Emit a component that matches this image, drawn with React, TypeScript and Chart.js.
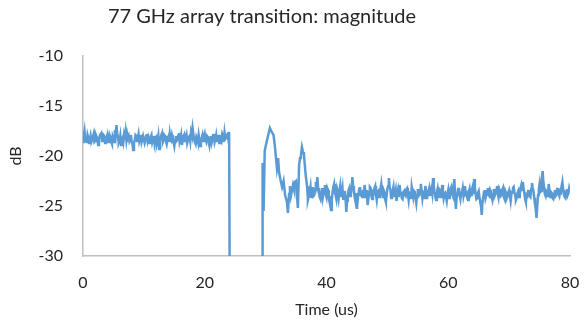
import React, { useEffect, useRef } from "react";
import { Chart, registerables } from "chart.js";

Chart.register(...registerables);

const TITLE = "77 GHz array transition: magnitude";
const X_TITLE = "Time (us)";
const Y_TITLE = "dB";

// Segment before the transition: samples every 0.125 us starting at 0 us
const PRE_START = 0;
const PRE_STEP = 0.125;
const preValues = [
  -18.6, -18.0, -17.5, -18.4, -18.3, -18.7, -17.9, -18.2, -18.7, -18.4, -18.0, -18.6, -18.4, -18.1, -17.8, -18.6, -18.5, -17.9, -18.1, -18.5,
  -18.9, -18.3, -18.0, -17.8, -17.7, -18.5, -18.3, -17.9, -18.0, -18.7, -18.6, -18.2, -17.9, -18.6, -18.4, -17.9, -18.1, -18.6, -18.8, -18.0,
  -18.2, -18.6, -17.4, -17.9, -16.9, -17.8, -18.1, -18.7, -18.5, -18.0, -18.9, -18.4, -18.2, -18.6, -17.9, -18.3, -17.6, -18.4, -17.8, -18.2,
  -18.0, -18.5, -18.3, -17.9, -18.6, -18.8, -19.4, -18.7, -18.4, -17.9, -18.0, -18.5, -18.2, -17.8, -18.5, -18.2, -17.9, -18.6, -18.3, -18.0,
  -18.0, -18.7, -18.4, -18.0, -17.8, -18.5, -18.2, -18.7, -18.6, -18.1, -17.9, -18.6, -18.3, -18.0, -18.7, -18.2, -18.1, -18.8, -18.5, -18.0,
  -19.3, -18.6, -18.2, -17.9, -17.7, -18.6, -18.4, -17.9, -18.0, -18.5, -18.8, -18.3, -18.1, -18.6, -17.8, -18.4, -18.5, -17.9, -18.2, -18.6,
  -19.0, -18.4, -18.0, -18.5, -18.4, -18.0, -17.7, -18.6, -18.3, -17.9, -18.9, -18.4, -18.1, -17.9, -18.6, -18.2, -17.9, -18.7, -18.4, -18.1,
  -18.0, -18.5, -17.6, -17.9, -17.2, -17.8, -18.2, -18.6, -18.8, -18.1, -18.3, -18.6, -17.9, -18.4, -19.0, -18.5, -18.2, -17.9, -18.5, -18.1,
  -17.8, -18.4, -18.6, -18.0, -18.1, -18.5, -18.9, -18.2, -18.0, -18.7, -18.4, -17.9, -17.8, -18.6, -18.3, -17.9, -18.6, -18.2, -18.1, -18.7,
  -17.9, -18.3, -18.5, -17.8, -18.0, -18.6, -17.7, -18.3, -18.2, -17.9, -17.8, -18.3, -17.6,
];

// Transition region (irregular sample times)
const transTimes = [
  24.15, 29.45, 29.5, 29.67, 29.85, 30.05, 30.35, 30.7, 31.0, 31.3,
  31.5, 31.85, 32.05, 32.2, 32.45, 32.7, 32.95, 33.2, 33.5, 33.66,
  33.85, 34.0, 34.15, 34.35, 34.5, 34.65, 34.8, 34.98, 35.15, 35.3,
  35.5, 35.65, 35.8, 35.96, 36.15, 36.3, 36.45, 36.6, 36.8, 36.95,
];
const transValues = [
  -40, -40, -20.7, -25.5, -19.5, -18.9, -18.1, -17.2, -17.6, -17.9,
  -18.9, -21.2, -20.2, -21.6, -22.4, -23.1, -22.5, -23.9, -24.6, -25.7,
  -23.8, -23.0, -24.0, -23.4, -22.9, -23.3, -22.6, -22.5, -24.0, -25.2,
  -20.9, -20.2, -19.9, -19.1, -19.6, -19.9, -21.0, -22.0, -23.0, -24.4,
];

// Segment after the transition: samples every 0.125 us starting at 37.25 us
const POST_START = 37.25;
const POST_STEP = 0.125;
const postValues = [
  -23.6, -23.1, -24.2, -23.5, -23.1, -24.0, -23.9, -23.3, -22.6, -23.0, -22.1, -23.2, -23.5, -24.1, -24.3, -23.6, -23.2, -24.2, -23.8, -23.3,
  -22.9, -23.8, -24.1, -23.2, -23.4, -24.2, -24.6, -24.0, -25.4, -24.3, -23.6, -23.1, -22.8, -23.7, -23.9, -24.3, -23.3, -23.6, -24.2, -23.5,
  -23.0, -24.1, -23.7, -23.2, -24.4, -23.8, -23.5, -24.2, -25.6, -24.5, -24.0, -23.4, -23.2, -24.0, -23.9, -23.3, -22.1, -23.0, -23.4, -24.1,
  -24.5, -23.7, -25.3, -24.4, -23.8, -23.3, -23.1, -23.9, -24.0, -23.6, -23.5, -24.2, -22.9, -23.5, -24.1, -23.4, -24.9, -24.3, -23.6, -23.1,
  -23.2, -24.0, -24.3, -23.6, -23.7, -23.2, -23.0, -23.9, -24.4, -23.6, -23.5, -24.1, -23.9, -23.3, -22.8, -23.6, -24.2, -23.4, -23.6, -24.3,
  -24.6, -23.9, -23.3, -23.0, -22.2, -23.1, -23.4, -24.2, -24.0, -23.5, -23.1, -24.0, -23.8, -23.4, -24.5, -23.8, -23.4, -24.1, -22.9, -23.6,
  -23.7, -24.2, -24.3, -23.6, -23.5, -23.9, -24.0, -23.3, -23.2, -23.8, -24.4, -23.7, -23.8, -24.3, -23.1, -23.6, -24.1, -23.5, -23.6, -24.2,
  -24.7, -23.9, -23.3, -24.0, -23.9, -23.4, -22.8, -23.5, -24.2, -23.6, -23.7, -24.3, -23.0, -23.6, -24.3, -23.8, -23.5, -23.2, -24.0, -23.5,
  -23.2, -23.7, -22.2, -23.0, -23.6, -24.1, -24.4, -23.7, -23.3, -23.9, -24.1, -23.4, -23.5, -24.2, -22.9, -23.5, -24.2, -23.8, -23.7, -24.1,
  -24.5, -23.8, -23.4, -24.2, -23.9, -23.3, -23.1, -23.8, -24.0, -23.2, -22.3, -23.9, -25.3, -24.2, -23.8, -23.3, -23.2, -23.9, -24.3, -23.7,
  -23.6, -23.2, -24.0, -23.6, -23.0, -23.8, -23.7, -24.2, -24.4, -23.6, -23.3, -24.0, -23.9, -23.4, -23.1, -23.8, -22.3, -23.2, -23.8, -24.3,
  -24.2, -23.7, -23.5, -24.1, -24.6, -25.0, -25.9, -24.6, -24.1, -23.6, -23.4, -24.2, -23.9, -23.5, -23.2, -23.9, -24.0, -23.4, -23.6, -24.1,
  -24.4, -23.8, -23.3, -24.0, -23.8, -23.4, -23.0, -23.7, -24.1, -23.3, -23.5, -24.0, -23.9, -23.4, -23.2, -24.1, -24.3, -23.5, -23.7, -24.2,
  -24.0, -23.6, -23.4, -24.0, -24.5, -23.8, -23.6, -23.2, -23.1, -23.7, -23.9, -24.4, -24.2, -23.7, -23.5, -24.1, -23.8, -23.2, -22.9, -23.4,
  -22.6, -23.2, -23.7, -24.3, -24.6, -23.9, -24.0, -23.5, -23.4, -24.0, -24.1, -23.3, -22.7, -23.2, -23.5, -24.2, -24.8, -25.3, -26.2, -25.0,
  -23.9, -23.3, -22.8, -23.6, -23.5, -22.4, -21.5, -22.6, -23.2, -23.8, -24.0, -23.5, -23.6, -24.1, -22.8, -23.4, -24.1, -23.6, -23.7, -24.2,
  -24.3, -23.8, -23.4, -24.0, -23.9, -23.3, -23.2, -23.8, -24.0, -23.5, -23.6, -23.0, -22.6, -23.4, -23.8, -24.1, -24.2, -23.6, -23.3, -23.9,
  -23.7, -23.2, -23.5,
];

const X_MIN = 0;
const X_MAX = 80;
const X_STEP = 20;
const Y_MIN = -30;
const Y_MAX = -10;
const Y_STEP = 5;

export default function App() {
  const canvasRef = useRef<HTMLCanvasElement | null>(null);

  useEffect(() => {
    document.body.style.margin = "0";
    const canvas = canvasRef.current;
    if (!canvas) return;

    const points = [
      ...preValues.map((v, i) => ({ x: PRE_START + i * PRE_STEP, y: v })),
      ...transValues.map((v, i) => ({ x: transTimes[i], y: v })),
      ...postValues.map((v, i) => ({ x: POST_START + i * POST_STEP, y: v })),
    ];

    const font = "Lato";
    const textColor = "#262626";
    const axisColor = "#BFBFBF";

    const titlePlugin = {
      id: "offsetTitle",
      afterDraw(c: any) {
        const ctx = c.ctx;
        ctx.save();
        ctx.fillStyle = textColor;
        ctx.font = `20px ${font}`;
        ctx.textAlign = "center";
        ctx.textBaseline = "middle";
        ctx.fillText(TITLE, 262, 17);
        ctx.restore();
      },
    };

    const chart = new Chart(canvas, {
      type: "line",
      data: {
        datasets: [
          {
            data: points,
            borderColor: "#5B9BD5",
            borderWidth: 2.5,
            pointRadius: 0,
            tension: 0,
            fill: false,
          },
        ],
      },
      plugins: [titlePlugin],
      options: {
        animation: false,
        responsive: false,
        events: [],
        layout: { padding: { left: 0, right: 15, top: 56, bottom: 0 } },
        plugins: {
          legend: { display: false },
          tooltip: { enabled: false },
          title: { display: false },
        },
        scales: {
          x: {
            type: "linear",
            min: X_MIN,
            max: X_MAX,
            grid: { display: false, drawTicks: false },
            border: { display: true, color: axisColor, width: 1.5 },
            ticks: {
              stepSize: X_STEP,
              padding: 17,
              color: textColor,
              font: { family: font, size: 16 },
              maxRotation: 0,
            },
            title: {
              display: true,
              text: X_TITLE,
              color: textColor,
              font: { family: font, size: 16 },
              padding: { top: 8, bottom: 7.6 },
            },
            afterFit: (scale: any) => {
              scale.height = 71;
              scale.paddingLeft = 0;
              scale.paddingRight = 0;
            },
          },
          y: {
            type: "linear",
            min: Y_MIN,
            max: Y_MAX,
            grid: { display: false, drawTicks: false },
            border: { display: true, color: axisColor, width: 1.5 },
            ticks: {
              stepSize: Y_STEP,
              padding: 20,
              color: textColor,
              font: { family: font, size: 16 },
            },
            title: {
              display: true,
              text: Y_TITLE,
              color: textColor,
              font: { family: font, size: 16 },
              padding: { top: 6, bottom: 0 },
            },
            afterFit: (scale: any) => {
              scale.width = 83;
              scale.paddingTop = 0;
              scale.paddingBottom = 0;
            },
          },
        },
      },
    });

    return () => chart.destroy();
  }, []);

  return (
    <div style={{ width: 585, height: 327 }}>
      <canvas ref={canvasRef} width={585} height={327} />
    </div>
  );
}
